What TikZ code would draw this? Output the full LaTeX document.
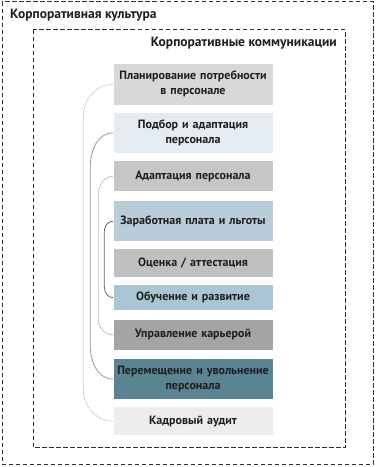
\documentclass[tikz,border=0pt]{standalone}
\usepackage{fontspec}
\setmainfont{PT Sans}
\usetikzlibrary{positioning}
\usepackage{xcolor}
\definecolor{frm}{HTML}{2E2E2E}
\definecolor{txt}{HTML}{1E1E1E}
\definecolor{cPlan}{HTML}{D8D8D8}
\definecolor{cSelect}{HTML}{E4EBF1}
\definecolor{cAdapt}{HTML}{C6C6C6}
\definecolor{cPay}{HTML}{B8CDD9}
\definecolor{cEval}{HTML}{C0C0C2}
\definecolor{cTrain}{HTML}{A8C6D3}
\definecolor{cCareer}{HTML}{A4A4A6}
\definecolor{cMove}{HTML}{5A8393}
\definecolor{cAudit}{HTML}{EDEDEE}

\begin{document}
\begin{tikzpicture}[
  x=1pt, y=-1pt,
  node distance=8pt,
  font=\bfseries\fontsize{12}{15}\selectfont,
  box/.style={minimum width=159pt, text width=157pt, align=center, inner sep=0pt, text=txt},
  frame/.style={draw=frm, line width=0.9pt, dash pattern=on 4.5pt off 2.5pt},
  title/.style={font=\bfseries\fontsize{13.5}{15}\selectfont, text=txt, inner sep=0pt},
  link/.style={line width=0.8pt}
]
\useasboundingbox (0,0) rectangle (376,467);

% frames
\draw[frame] (2,1.5) rectangle (373,464);
\draw[frame] (33,29.5) rectangle (345,447.5);
\node[title, anchor=west] (culture) at (10,15.5) {Корпоративная культура};
\node[title, anchor=east] (comm) at (337,43.5) {Корпоративные коммуникации};

% HR functions
\node[box, fill=cPlan, minimum height=40.7pt] (plan) at (193,84.3) {Планирование потребности\\в персонале};
\node[box, fill=cSelect, minimum height=40.4pt, below=7.6pt of plan] (select) {Подбор и адаптация\\персонала};
\node[box, fill=cAdapt, minimum height=30.7pt, below=7.3pt of select] (adapt) {Адаптация персонала};
\node[box, fill=cPay, minimum height=40pt, below=9.3pt of adapt] (pay) {Заработная плата и льготы};
\node[box, fill=cEval, minimum height=27.3pt, below=7.7pt of pay] (eval) {Оценка / аттестация};
\node[box, fill=cTrain, minimum height=25pt, below=8.3pt of eval] (train) {Обучение и развитие};
\node[box, fill=cCareer, minimum height=30.4pt, below=9pt of train] (career) {Управление карьерой};
\node[box, fill=cMove, minimum height=40.7pt, below=8.3pt of career] (move) {Перемещение и увольнение\\персонала};
\node[box, fill=cAudit, minimum height=27.4pt, below=7.6pt of move] (audit) {Кадровый аудит};

% brackets
\draw[link, draw=cPlan!70!cPay] (plan.west) to[out=180,in=90] ([xshift=-30pt,yshift=-32pt]plan.west)
  -- ([xshift=-30pt,yshift=32pt]audit.west) to[out=-90,in=180] (audit.west);
\draw[link, draw=black!40] (select.west) to[out=180,in=90] ([xshift=-23pt,yshift=-34pt]select.west)
  -- ([xshift=-23pt,yshift=33pt]move.west) to[out=-90,in=180] (move.west);
\draw[link, draw=cAdapt!60!cTrain] (adapt.west) to[out=180,in=90] ([xshift=-15pt,yshift=-19pt]adapt.west)
  -- ([xshift=-15pt,yshift=16pt]career.west) to[out=-90,in=180] (career.west);
\draw[link, draw=black!60] (pay.west) to[out=180,in=90] ([xshift=-9pt,yshift=-10pt]pay.west)
  -- ([xshift=-9pt,yshift=11pt]train.west) to[out=-90,in=180] (train.west);

\end{tikzpicture}
\end{document}
